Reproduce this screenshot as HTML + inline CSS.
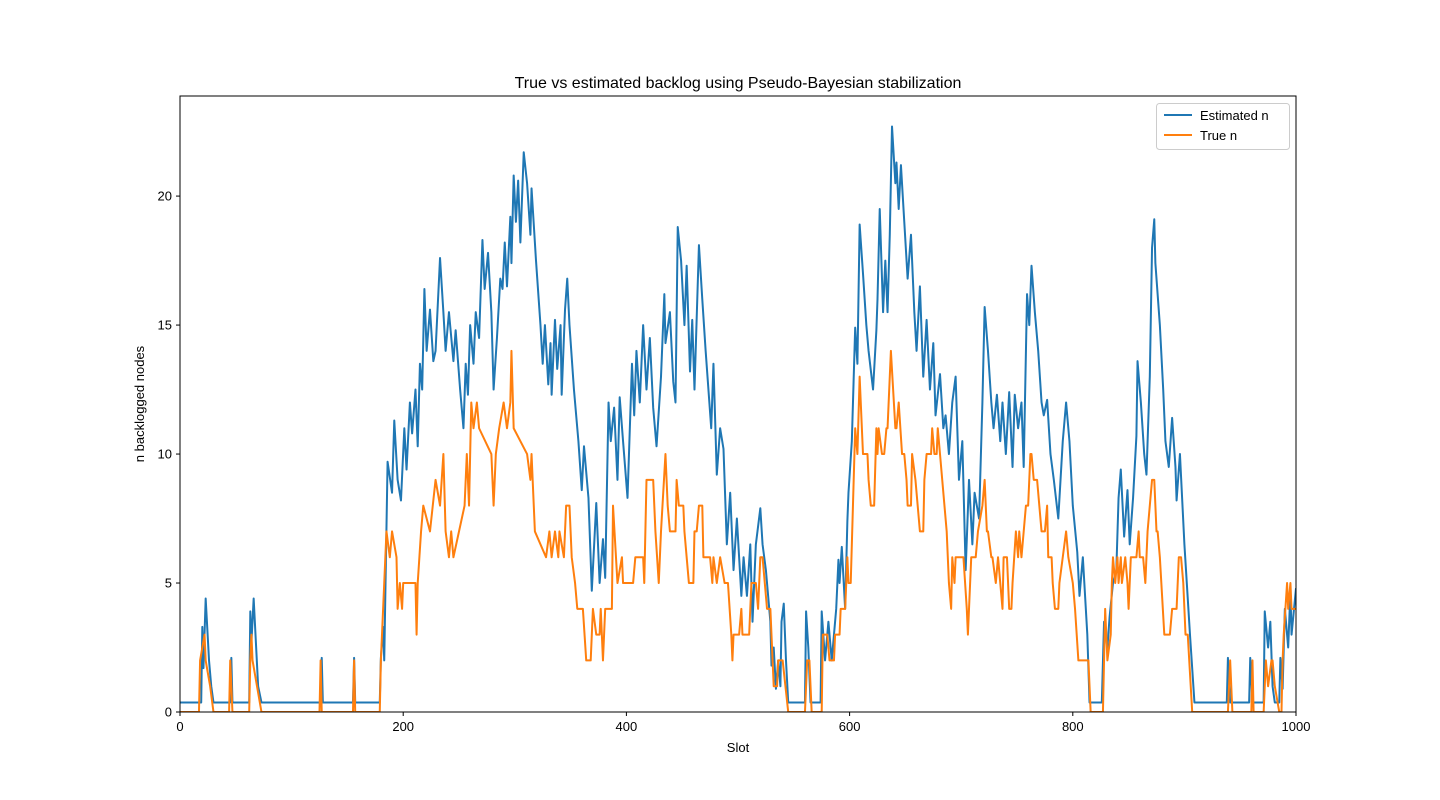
<!DOCTYPE html>
<html><head><meta charset="utf-8">
<style>
html,body{margin:0;padding:0;background:#fff;}
svg{display:block;font-family:"Liberation Sans","DejaVu Sans",sans-serif;}
</style></head>
<body>
<svg id="chart" width="1440" height="800" viewBox="0 0 1440 800" xmlns="http://www.w3.org/2000/svg">
<rect x="0" y="0" width="1440" height="800" fill="#fff"/>
<text x="738" y="88" font-size="16" text-anchor="middle">True vs estimated backlog using Pseudo-Bayesian stabilization</text>
<text x="738" y="752" font-size="13" text-anchor="middle">Slot</text>
<text transform="translate(144,404) rotate(-90)" font-size="13" text-anchor="middle">n backlogged nodes</text>
<g id="plot"></g>
<g>
<rect x="1156.5" y="103.5" width="133" height="46" rx="3" fill="#fff" stroke="#ccc"/>
<line x1="1164" y1="115" x2="1192" y2="115" stroke="#1f77b4" stroke-width="2"/>
<text x="1200" y="120" font-size="13">Estimated n</text>
<line x1="1164" y1="135" x2="1192" y2="135" stroke="#ff7f0e" stroke-width="2"/>
<text x="1200" y="140" font-size="13">True n</text>
</g>
</svg>
<script>
const xTicks = [0,200,400,600,800,1000];
const yTicks = [0,5,10,15,20];
const estSlots = [0,19,20,21,23,26,28,30,45,46,47,62,63,64,66,70,73,126,127,128,155,156,157,179,180,182,183,186,190,192,195,198,201,203,206,208,211,213,215,217,219,221,224,227,229,233,236,238,241,245,247,251,254,256,258,260,263,265,268,271,273,276,279,281,284,287,289,291,293,296,297,299,301,303,305,308,311,314,315,319,323,325,327,330,332,333,336,338,341,342,345,347,349,353,357,360,362,366,369,373,376,379,381,384,386,389,392,394,397,401,405,407,409,412,415,418,421,424,427,431,434,435,439,442,444,446,449,452,454,457,459,461,465,468,471,476,478,481,484,487,490,493,496,499,503,505,508,511,513,516,520,522,525,529,530,532,534,536,538,539,541,543,545,560,561,563,565,574,575,578,581,584,588,590,591,593,596,598,599,602,605,607,609,612,615,617,621,624,625,627,630,632,634,636,638,641,642,644,646,649,652,655,658,660,663,666,669,672,675,677,681,684,686,689,692,695,698,701,704,707,710,712,716,719,721,724,727,729,732,735,737,740,743,746,748,751,754,756,759,761,763,766,769,772,774,777,780,783,787,791,794,797,800,804,806,809,813,815,826,828,831,833,836,839,841,843,846,849,851,854,857,858,861,864,866,869,871,873,874,878,881,883,886,889,892,893,896,900,905,909,938,939,941,958,959,961,971,972,975,977,979,981,985,986,988,990,993,995,996,1000];
const estValues = [0.37,0.37,3.3,1.7,4.4,2,1,0.37,0.37,2.1,0.37,0.37,3.9,2.7,4.4,1,0.37,0.37,2.1,0.37,0.37,2.1,0.37,0.37,2.1,3.3,2,9.7,8.5,11.3,9,8.2,11,9.4,12,10.8,12.5,10.3,13.5,12.5,16.4,14,15.6,13.6,14,17.6,15.5,14,15.5,13.6,14.8,12.5,11,13.5,12.3,15,13.5,15.5,14.5,18.3,16.4,17.8,15.5,12.5,14.5,16.8,16.4,18.2,16.5,19.2,17.4,20.8,19,20.6,18.2,21.7,20.5,18.5,20.3,17.5,15,13.5,15,12.7,14.3,12.3,15.2,13.3,15,12.3,15.6,16.8,15,12.5,10.5,8.6,10.3,8.3,4.7,8.1,5,6.7,5.2,12,10.5,11.8,9,12.2,10.5,8.3,13.5,11.5,14,12,15,12.5,14.5,11.8,10.3,13,16.2,14.3,15.5,12.8,12,18.8,17.5,15,17.3,13.2,15.2,12.5,18.1,16,14,11,13.5,9.2,11,10.2,6.5,8.5,5.5,7.5,4.5,6,4.5,6.5,3.5,6.5,7.9,6.5,5.5,3.5,1.8,2.5,0.9,2,1,3.5,4.2,2,0.37,0.37,3.9,2.5,0.37,0.37,3.9,2,3.5,2,4,5.9,5,6.4,4,7.4,8.5,10.5,14.9,13.5,18.9,17,15,14,12.5,14.8,16,19.5,15.5,17.5,15.5,18.5,22.7,20.5,21.3,19.5,21.2,19,16.8,18.5,15.5,14,16.5,13,15.2,12.5,14.3,11.5,13.1,11,11.5,10,12,13,9,10.5,5.5,9,6.5,8.5,7.5,12,15.7,14,12,11,12.3,10.5,12,10,12.4,9.5,12.3,11,12,9.5,16.2,15,17.3,15.5,14,12,11.5,12.1,10,9,7.5,10.5,12,10.5,8,6.2,4.5,6,3,0.37,0.37,3.5,2.5,3.7,5,5.5,8.3,9.4,6.8,8.6,6.5,8.3,10.7,13.6,12,10,9.2,13,18,19.1,17.4,15,12.5,10.5,9.5,11.4,9.5,8.2,10,6.5,3,0.37,0.37,2.1,0.37,0.37,2.1,0.37,0.37,3.9,2.5,3.5,1,0.37,0.37,2.1,0.9,4,2.5,4.7,3,4.8];
const trueSlots = [0,17,18,22,23,27,30,44,45,47,62,63,64,65,69,73,125,126,127,155,156,157,179,180,183,185,188,190,194,195,197,199,200,211,212,213,216,218,224,229,233,236,238,241,243,245,255,257,259,261,263,266,268,279,281,283,286,290,293,296,297,299,311,314,315,318,328,331,333,336,339,340,344,346,349,351,354,356,361,364,368,370,373,376,377,379,381,387,388,392,396,397,406,408,415,416,418,424,426,429,431,435,437,439,444,445,447,451,452,454,456,460,461,463,465,468,469,475,477,478,481,484,488,491,494,495,496,501,503,504,510,512,516,518,520,522,526,529,531,532,535,536,540,545,560,562,564,566,575,576,580,582,586,587,591,592,596,598,599,601,603,605,607,609,612,616,617,619,622,624,625,626,629,631,633,634,637,641,642,644,647,649,651,652,655,656,659,661,663,666,667,669,673,674,676,678,679,681,685,687,689,691,692,694,695,702,705,706,709,713,715,719,721,723,724,727,728,731,733,737,738,741,743,745,746,749,751,752,754,756,758,760,762,763,765,768,770,772,775,777,778,781,782,784,787,788,791,794,796,800,802,805,814,816,827,829,831,834,835,836,838,840,841,843,844,847,849,850,852,857,859,860,863,865,867,869,871,873,875,876,878,882,887,889,893,895,897,899,901,903,907,939,941,943,960,961,962,971,973,975,978,979,981,985,987,988,989,992,993,995,996,1000];
const trueValues = [0,0,2,3,2,1,0,0,2,0,0,2,3,2,1,0,0,2,0,0,2,0,0,2,5,7,6,7,6,4,5,4,5,5,3,5,7,8,7,9,8,10,7,6,7,6,8,10,8,12,11,12,11,10,8,10,11,12,11,12,14,11,10,9,10,7,6,7,6,7,6,7,6,8,8,6,5,4,4,2,2,4,3,3,4,2,4,4,8,5,6,5,5,6,6,5,9,9,7,5,7,10,8,7,7,9,8,8,7,6,5,5,7,7,8,8,6,6,5,6,5,6,5,5,3,2,3,3,4,3,3,5,5,4,6,6,4,4,2,1,1,2,2,0,0,2,2,0,0,3,3,2,2,3,3,4,4,6,5,5,8,11,10,13,10,10,9,8,8,11,10,11,10,10,11,11,14,11,11,12,10,10,9,8,8,10,9,8,7,7,9,10,10,11,10,10,11,10,8,7,5,4,6,5,6,6,4,3,6,6,7,8,9,7,7,6,6,5,6,4,6,6,4,4,5,7,6,7,6,7,8,8,10,10,9,9,8,7,7,8,6,6,5,4,4,5,6,7,6,5,4,2,2,0,0,4,2,3,5,6,5,6,5,6,5,6,5,4,6,6,7,6,6,5,7,8,9,9,7,7,6,3,3,4,4,6,6,5,3,3,0,0,2,0,0,2,0,0,2,1,2,2,1,0,0,2,3,5,4,5,4,4];

const L=180,R=1296,T=96,B=712,YMAX=23.88;
const xs = v => L + (v/1000)*(R-L);
const ys = v => B - (v/YMAX)*(B-T);
const NS='http://www.w3.org/2000/svg';
const plot=document.getElementById('plot');
function mk(tag,attrs){const e=document.createElementNS(NS,tag);for(const k in attrs)e.setAttribute(k,attrs[k]);return e;}

function series(sl,vl,color,name){
  let d='';
  for(let i=0;i<sl.length;i++){d+=(i?'L':'M')+xs(sl[i]).toFixed(2)+','+ys(vl[i]).toFixed(2);}
  const p=mk('path',{d:d,fill:'none',stroke:color,'stroke-width':2,'stroke-linejoin':'round','clip-path':'url(#clip)'});
  
  
  plot.appendChild(p);
}
const defs=mk('defs',{});const cp=mk('clipPath',{id:'clip'});cp.appendChild(mk('rect',{x:L,y:T,width:R-L,height:B-T}));defs.appendChild(cp);plot.appendChild(defs);
series(estSlots,estValues,'#1f77b4','estimated-n-line');
series(trueSlots,trueValues,'#ff7f0e','true-n-line');

const frame=mk('rect',{x:L,y:T,width:R-L,height:B-T,fill:'none',stroke:'#000','stroke-width':1});


plot.appendChild(frame);

xTicks.forEach(t=>{
  const x=xs(t);
  const ln=mk('line',{x1:x,y1:B,x2:x,y2:B+4,stroke:'#000'});
  
  
  plot.appendChild(ln);
  const tx=mk('text',{x:x,y:B+19,'font-size':13,'text-anchor':'middle'});
  
  
  tx.textContent=t;plot.appendChild(tx);
});
yTicks.forEach(t=>{
  const y=ys(t);
  const ln=mk('line',{x1:L-4,y1:y,x2:L,y2:y,stroke:'#000'});
  
  
  plot.appendChild(ln);
  const tx=mk('text',{x:L-8,y:y+4.5,'font-size':13,'text-anchor':'end'});
  
  
  tx.textContent=t;plot.appendChild(tx);
});
</script>
</body></html>
